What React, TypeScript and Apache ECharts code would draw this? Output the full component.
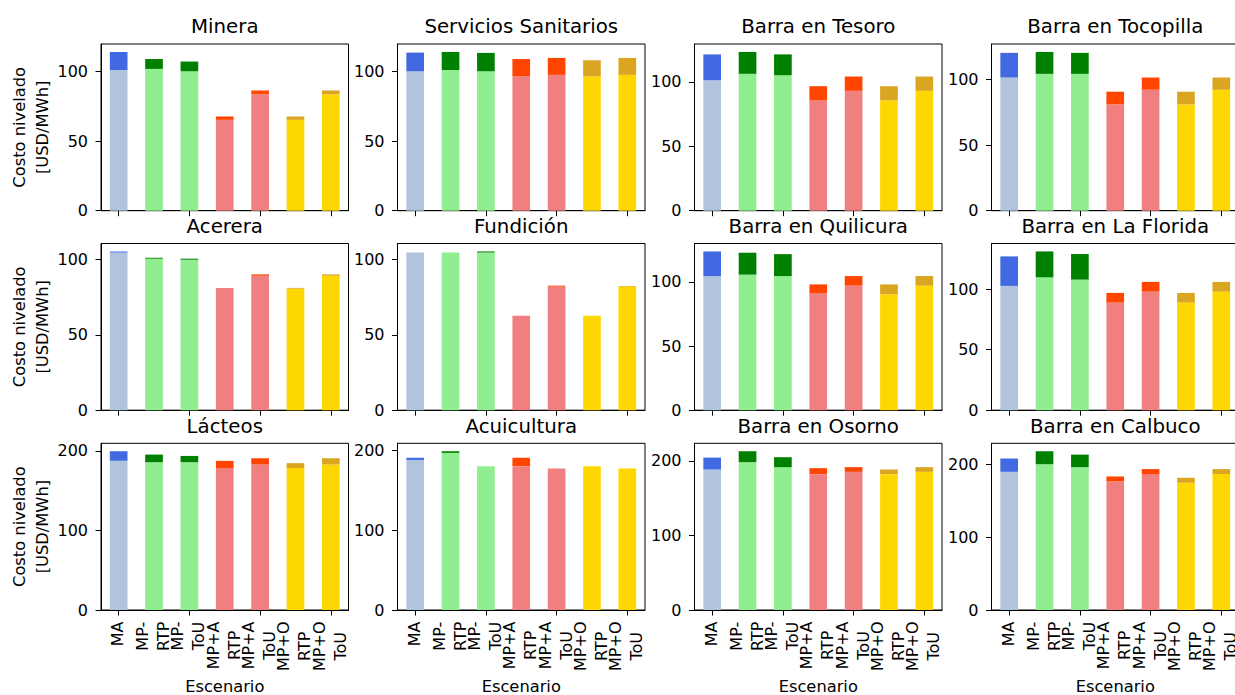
import { useEffect, useRef } from "react";
import * as echarts from "echarts";

// Scenario categories (x axis of every panel)
const scenarios = [
  "MA",
  "MP-\nRTP",
  "MP-\nToU",
  "MP+A\nRTP",
  "MP+A\nToU",
  "MP+O\nRTP",
  "MP+O\nToU",
];

// Lower (base) segment and upper (extra) segment colours per scenario
const baseColors = ["#B0C4DE", "#90EE90", "#90EE90", "#F08080", "#F08080", "#FFD700", "#FFD700"];
const extraColors = ["#4169E1", "#008000", "#008000", "#FF4500", "#FF4500", "#DAA520", "#DAA520"];

// Levelized cost [USD/MWh]: base part and additional part, per panel
const mineraBase = [101.1, 101.9, 100.2, 65.3, 83.7, 65.3, 83.7];
const mineraExtra = [13.0, 7.1, 7.0, 2.4, 2.7, 2.4, 2.7];

const sanitariosBase = [100.2, 101.1, 100.2, 96.6, 97.6, 96.6, 97.6];
const sanitariosExtra = [13.4, 13.0, 13.2, 12.4, 12.2, 11.5, 12.2];

const tesoroBase = [101.3, 106.3, 105.2, 85.6, 93.1, 85.6, 93.1];
const tesoroExtra = [20.1, 17.0, 16.2, 11.1, 11.1, 11.1, 11.1];

const tocopillaBase = [101.5, 104.3, 104.3, 81.0, 92.2, 81.0, 92.2];
const tocopillaExtra = [18.8, 16.7, 16.0, 9.7, 9.3, 9.7, 9.3];

const acereraBase = [104.6, 100.5, 99.8, 81.0, 89.2, 80.6, 89.2];
const acereraExtra = [0.7, 0.6, 0.7, 0.0, 0.9, 0.5, 0.9];

const fundicionBase = [104.6, 104.6, 104.6, 62.6, 82.0, 62.6, 82.0];
const fundicionExtra = [0.0, 0.0, 0.7, 0.0, 0.6, 0.0, 0.4];

const quilicuraBase = [104.6, 105.7, 104.6, 91.4, 97.1, 90.4, 97.1];
const quilicuraExtra = [19.2, 17.1, 17.1, 6.7, 7.5, 7.7, 7.5];

const floridaBase = [102.8, 109.9, 108.0, 89.0, 98.1, 89.0, 98.1];
const floridaExtra = [24.4, 21.4, 21.2, 8.0, 8.0, 8.0, 8.0];

const lacteosBase = [187.5, 185.8, 185.8, 178.4, 182.9, 178.4, 182.9];
const lacteosExtra = [12.1, 9.6, 7.9, 9.1, 7.9, 6.2, 7.9];

const acuiculturaBase = [188.4, 197.2, 180.6, 180.6, 177.7, 180.6, 177.7];
const acuiculturaExtra = [2.7, 2.1, 0.0, 10.5, 0.0, 0.0, 0.0];

const osornoBase = [188.4, 198.2, 191.6, 182.2, 185.3, 182.2, 185.3];
const osornoExtra = [16.0, 14.7, 13.3, 8.0, 6.3, 6.2, 6.3];

const calbucoBase = [189.6, 200.0, 195.9, 176.4, 186.5, 174.6, 186.5];
const calbucoExtra = [18.2, 17.8, 17.3, 6.8, 6.8, 6.8, 6.8];

// Y tick values per row of panels
const yTicksUpper = [0, 50, 100];
const yTicksLower = [0, 100, 200];

const panels = [
  { title: "Minera", base: mineraBase, extra: mineraExtra },
  { title: "Servicios Sanitarios", base: sanitariosBase, extra: sanitariosExtra },
  { title: "Barra en Tesoro", base: tesoroBase, extra: tesoroExtra },
  { title: "Barra en Tocopilla", base: tocopillaBase, extra: tocopillaExtra },
  { title: "Acerera", base: acereraBase, extra: acereraExtra },
  { title: "Fundición", base: fundicionBase, extra: fundicionExtra },
  { title: "Barra en Quilicura", base: quilicuraBase, extra: quilicuraExtra },
  { title: "Barra en La Florida", base: floridaBase, extra: floridaExtra },
  { title: "Lácteos", base: lacteosBase, extra: lacteosExtra },
  { title: "Acuicultura", base: acuiculturaBase, extra: acuiculturaExtra },
  { title: "Barra en Osorno", base: osornoBase, extra: osornoExtra },
  { title: "Barra en Calbuco", base: calbucoBase, extra: calbucoExtra },
];

// Panel layout (pixels)
const COL_LEFT = [101, 397.5, 694.5, 991.5];
const ROW_TOP = [44, 243.5, 443.3];
const PANEL_W = 247.5;
const PANEL_H = 166.7;
const FONT = "DejaVu Sans";
const INK = "#000";
const TICK_FONT = 16;
const LABEL_FONT = 16.3;
const TITLE_FONT = 19.8;
const X_LABEL_GAP = 11.5;

function buildOption() {
  const grid: any[] = [];
  const xAxis: any[] = [];
  const yAxis: any[] = [];
  const series: any[] = [];

  panels.forEach((p, i) => {
    const row = Math.floor(i / 4);
    const col = i % 4;
    const totals = p.base.map((b, k) => b + p.extra[k]);
    const yMax = Math.max(...totals) * 1.05;
    const ticks = row === 2 ? yTicksLower : yTicksUpper;

    grid.push({
      left: COL_LEFT[col],
      top: ROW_TOP[row],
      width: PANEL_W,
      height: PANEL_H,
      show: true,
      backgroundColor: "transparent",
      borderColor: INK,
      borderWidth: 1,
      containLabel: false,
      outerBoundsMode: "none",
    });

    // Category labels of the bottom row are drawn as rotated, centre-aligned texts at the axis' tick positions
    xAxis.push({
      type: "category",
      gridIndex: i,
      data: scenarios,
      boundaryGap: true,
      axisLine: { show: true, lineStyle: { color: INK, width: 1 } },
      axisTick: { show: true, alignWithLabel: true, length: 5.5, lineStyle: { color: INK, width: 1 } },
      axisLabel: { show: false },
      splitLine: { show: false },
    });

    yAxis.push({
      type: "value",
      gridIndex: i,
      min: 0,
      max: yMax,
      axisLine: { show: true, lineStyle: { color: INK, width: 1 } },
      axisTick: { show: true, length: 5.5, lineStyle: { color: INK, width: 1 }, customValues: ticks },
      axisLabel: {
        show: true,
        customValues: ticks,
        fontSize: TICK_FONT,
        margin: 13,
        color: INK,
        fontFamily: FONT,
      },
      splitLine: { show: false },
    });

    series.push({
      type: "bar",
      name: p.title + " base",
      xAxisIndex: i,
      yAxisIndex: i,
      stack: "stack" + i,
      barWidth: "50%",
      data: p.base.map((v, k) => ({ value: v, itemStyle: { color: baseColors[k] } })),
    });
    series.push({
      type: "bar",
      name: p.title + " extra",
      xAxisIndex: i,
      yAxisIndex: i,
      stack: "stack" + i,
      barWidth: "50%",
      data: p.extra.map((v, k) => ({ value: v, itemStyle: { color: extraColors[k] } })),
    });
  });

  return {
    animation: false,
    backgroundColor: "#fff",
    textStyle: { fontFamily: FONT },
    grid,
    xAxis,
    yAxis,
    series,
  };
}

// Longest line of a multi-line label, in pixels
function longestLine(text: string, ctx: CanvasRenderingContext2D | null) {
  const lines = text.split("\n");
  if (!ctx) return Math.max(...lines.map((l) => l.length)) * TICK_FONT * 0.65;
  return Math.max(...lines.map((l) => ctx.measureText(l).width));
}

function buildTexts(chart: echarts.ECharts) {
  const graphic: any[] = [];
  const ctx = document.createElement("canvas").getContext("2d");
  if (ctx) ctx.font = `${TICK_FONT}px "${FONT}"`;

  panels.forEach((p, i) => {
    const row = Math.floor(i / 4);
    const col = i % 4;
    const left = COL_LEFT[col];
    const top = ROW_TOP[row];

    // Panel title
    graphic.push({
      type: "text",
      x: left + PANEL_W / 2,
      y: top - 17.3,
      style: {
        text: p.title,
        fontSize: TITLE_FONT,
        fontFamily: FONT,
        fill: INK,
        textAlign: "center",
        textVerticalAlign: "middle",
      },
    });

    // Y axis title on first column
    if (col === 0) {
      graphic.push({
        type: "text",
        x: 30.5,
        y: top + PANEL_H / 2,
        rotation: Math.PI / 2,
        style: {
          text: "Costo nivelado\n[USD/MWh]",
          fontSize: LABEL_FONT,
          lineHeight: 23,
          fontFamily: FONT,
          fill: INK,
          textAlign: "center",
          textVerticalAlign: "middle",
        },
      });
    }

    if (row === 2) {
      // Rotated scenario labels hanging below each tick
      scenarios.forEach((s, k) => {
        const pt = chart.convertToPixel({ gridIndex: i } as any, [k, 0]) as number[];
        const len = longestLine(s, ctx);
        graphic.push({
          type: "text",
          x: pt[0] - 1,
          y: pt[1] + X_LABEL_GAP + len / 2,
          rotation: Math.PI / 2,
          style: {
            text: s,
            fontSize: TICK_FONT,
            lineHeight: 21,
            fontFamily: FONT,
            fill: INK,
            textAlign: "center",
            textVerticalAlign: "middle",
          },
        });
      });

      // X axis title
      graphic.push({
        type: "text",
        x: left + PANEL_W / 2,
        y: 686,
        style: {
          text: "Escenario",
          fontSize: LABEL_FONT,
          lineHeight: 16,
          fontFamily: FONT,
          fill: INK,
          textAlign: "center",
          textVerticalAlign: "middle",
        },
      });
    }
  });

  return graphic;
}

export default function App() {
  const ref = useRef<HTMLDivElement>(null);

  useEffect(() => {
    if (!ref.current) return;
    const chart = echarts.init(ref.current, null, { renderer: "svg" });
    chart.setOption(buildOption() as any);
    chart.setOption({ graphic: buildTexts(chart) } as any);
    return () => chart.dispose();
  }, []);

  return (
    <div
      ref={ref}
      style={{ position: "fixed", left: 0, top: 0, width: 1235, height: 695, background: "#fff" }}
    />
  );
}
